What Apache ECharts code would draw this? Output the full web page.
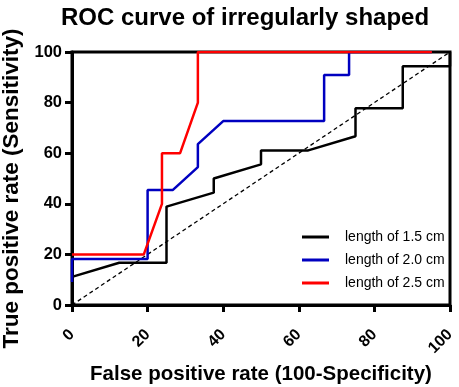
<!DOCTYPE html>
<html>
<head>
<meta charset="utf-8">
<script src="https://cdn.jsdelivr.net/npm/echarts@6/dist/echarts.min.js"></script>
<style>html,body{margin:0;padding:0;background:#fff}#roc{width:459px;height:387px}</style>
</head>
<body>
<div id="roc"></div>
<script>
// ROC points [FPR, TPR]
var len15 = [[0,11.1],[12.5,16.7],[25,16.7],[25,38.9],[37.5,44.4],[37.5,50],[50,55.6],[50,61.1],[62.5,61.1],[75,66.7],[75,77.8],[87.5,77.8],[87.5,94.4],[100,94.4],[100,100]];
var len20 = [[0,9.1],[0,18.2],[20,18.2],[20,45.5],[26.7,45.5],[33.3,54.5],[33.3,63.6],[40,72.7],[66.7,72.7],[66.7,90.9],[73.3,90.9],[73.3,100],[95.2,100]];
var len25 = [[0,20],[19,20],[23.8,40],[23.8,60],[28.6,60],[33.3,80],[33.3,100],[95.2,100]];
var refLine = [[0,0],[100,100]];
var names = ['length of 1.5 cm','length of 2.0 cm','length of 2.5 cm'];
var colors = ['#000000','#0000c0','#ff0000'];

var FONT = '"Liberation Sans", Arial, sans-serif';
var chart = echarts.init(document.getElementById('roc'));

var option = {
    animation: false,
    title: {text: 'ROC curve of irregularly shaped', left: 240, textAlign: 'center', top: 1,
        textStyle: {fontFamily: FONT, fontWeight: 'bold', fontSize: 24, color: '#000'}},
    grid: {left: 72, right: 9, top: 52, bottom: 82, outerBoundsMode: 'none', show: true, borderColor: '#000', borderWidth: 3},
    legend: {orient: 'vertical', left: 297, top: 225, itemWidth: 27, itemHeight: 3, itemGap: 9, icon: 'rect',
        data: names, textStyle: {fontFamily: FONT, fontSize: 14, color: '#000', padding: [0,0,0,11]}},
    xAxis: {type: 'value', min: 0, max: 100, interval: 20,
        name: 'False positive rate (100-Specificity)', nameLocation: 'middle', nameGap: 54,
        nameTextStyle: {fontFamily: FONT, fontWeight: 'bold', fontSize: 20.5, color: '#000'},
        axisLine: {lineStyle: {color: '#000', width: 3}},
        axisTick: {length: 7, lineStyle: {color: '#000', width: 3}},
        axisLabel: {rotate: 45, margin: 27, fontFamily: FONT, fontWeight: 'bold', fontSize: 16, color: '#000'},
        splitLine: {show: false}},
    yAxis: {type: 'value', min: 0, max: 100, interval: 20,
        name: 'True positive rate (Sensitivity)', nameLocation: 'middle', nameGap: 46,
        nameTextStyle: {fontFamily: FONT, fontWeight: 'bold', fontSize: 22.5, color: '#000', padding: [0, 20, 0, 0]},
        axisLine: {lineStyle: {color: '#000', width: 3}},
        axisTick: {length: 7, lineStyle: {color: '#000', width: 3}},
        axisLabel: {margin: 10, fontFamily: FONT, fontWeight: 'bold', fontSize: 16.5, color: '#000'},
        splitLine: {show: false}},
    series: [
        {type: 'line', data: refLine, symbol: 'none', silent: true,
            lineStyle: {color: '#000', width: 1.3, type: [4, 3]}},
        {name: names[0], type: 'line', data: len15, symbol: 'none', color: colors[0], lineStyle: {width: 2.5}},
        {name: names[1], type: 'line', data: len20, symbol: 'none', color: colors[1], lineStyle: {width: 2.5}},
        {name: names[2], type: 'line', data: len25, symbol: 'none', color: colors[2], lineStyle: {width: 2.5}}
    ]
};

chart.setOption(option);
</script>
</body>
</html>
